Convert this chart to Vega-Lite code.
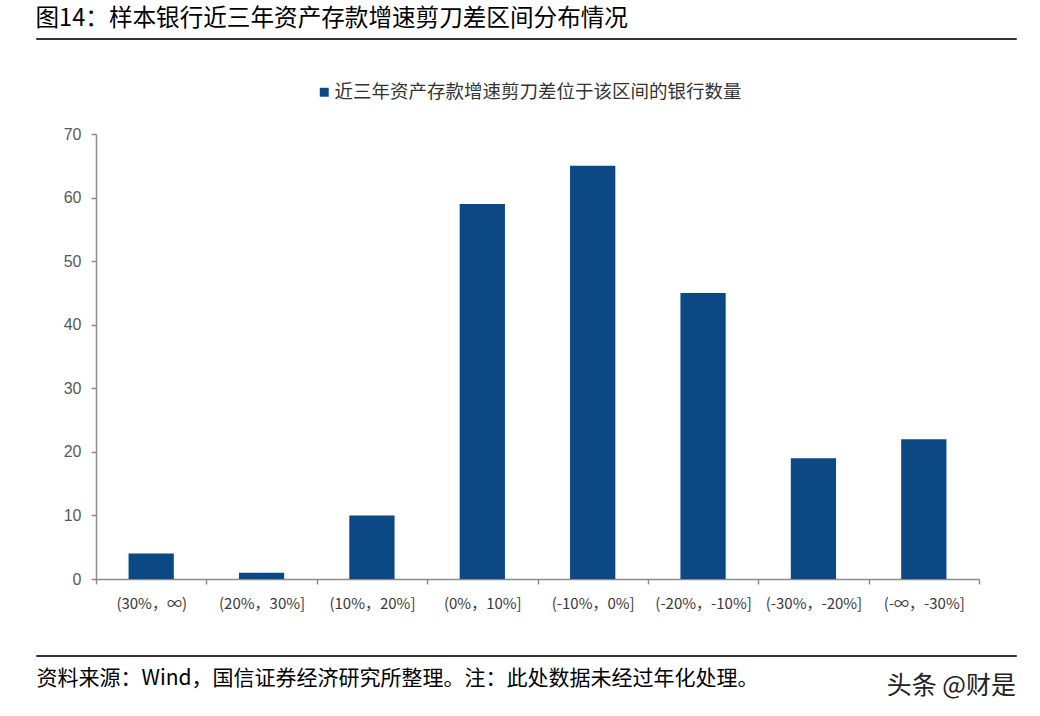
{
  "$schema": "https://vega.github.io/schema/vega-lite/v6.json",
  "padding": {"left": 35, "top": 6, "right": 25, "bottom": 38},
  "title": {"text": "图14：样本银行近三年资产存款增速剪刀差区间分布情况", "anchor": "start", "font": "Noto Sans CJK SC", "fontSize": 23.6, "fontWeight": "normal", "color": "#000000", "offset": 7},
  "config": {
    "view": {"stroke": "#333333", "strokeWidth": 1},
    "concat": {"spacing": 43},
    "font": "Noto Sans CJK SC"
  },
  "resolve": {"scale": {"color": "independent"}, "legend": {"color": "independent"}},
  "columns": 1,
  "concat": [
    {
      "width": 980, "height": 1,
      "data": {"values": []},
      "mark": "point",
      "encoding": {
        "x": {"field": "v", "type": "quantitative", "scale": {"domain": [0, 1]}, "axis": null}
      }
    },
    {
      "width": 980, "height": 445,
      "view": {"stroke": null},
      "data": {"values": [
        {"range": "(30%，∞)", "count": 4, "series": "近三年资产存款增速剪刀差位于该区间的银行数量"},
        {"range": "(20%，30%]", "count": 1, "series": "近三年资产存款增速剪刀差位于该区间的银行数量"},
        {"range": "(10%，20%]", "count": 10, "series": "近三年资产存款增速剪刀差位于该区间的银行数量"},
        {"range": "(0%，10%]", "count": 59, "series": "近三年资产存款增速剪刀差位于该区间的银行数量"},
        {"range": "(-10%，0%]", "count": 65, "series": "近三年资产存款增速剪刀差位于该区间的银行数量"},
        {"range": "(-20%，-10%]", "count": 45, "series": "近三年资产存款增速剪刀差位于该区间的银行数量"},
        {"range": "(-30%，-20%]", "count": 19, "series": "近三年资产存款增速剪刀差位于该区间的银行数量"},
        {"range": "(-∞，-30%]", "count": 22, "series": "近三年资产存款增速剪刀差位于该区间的银行数量"}
      ]},
      "mark": {"type": "bar", "width": {"band": 0.41}},
      "encoding": {
        "x": {
          "field": "range", "type": "nominal", "sort": null,
          "scale": {"paddingInner": 0, "paddingOuter": 0, "range": [60, 943]},
          "axis": {"title": null, "labelAngle": 0, "tickBand": "extent", "domainColor": "#8c8c8c", "tickColor": "#8c8c8c", "tickSize": 5, "domainWidth": 1.5, "tickWidth": 1.5, "labelFont": "Noto Sans CJK SC", "labelFontSize": 15, "labelColor": "#3a3a3a", "labelPadding": 12}
        },
        "y": {
          "field": "count", "type": "quantitative",
          "scale": {"domain": [0, 70]},
          "axis": {"values": [0, 10, 20, 30, 40, 50, 60, 70], "offset": -60, "grid": false, "title": null, "domainColor": "#8c8c8c", "tickColor": "#8c8c8c", "tickSize": 5, "domainWidth": 1.5, "tickWidth": 1.5, "labelFont": "Liberation Sans", "labelFontSize": 16, "labelColor": "#595959", "labelPadding": 10}
        },
        "color": {
          "field": "series", "type": "nominal",
          "scale": {"range": ["#0B4884"]},
          "legend": {"title": null, "orient": "none", "legendX": 279, "legendY": -51, "symbolType": "square", "symbolSize": 80, "symbolStrokeWidth": 0, "labelFont": "Noto Sans CJK SC", "labelFontSize": 18.5, "labelColor": "#333333", "labelLimit": 0, "padding": 0, "labelOffset": 1}
        }
      }
    },
    {
      "width": 980, "height": 1,
      "data": {"values": []},
      "mark": "point",
      "encoding": {
        "x": {
          "field": "v", "type": "quantitative",
          "scale": {"domain": [0, 1]},
          "axis": {"domain": false, "ticks": false, "labels": false, "grid": false, "title": "资料来源：Wind，国信证券经济研究所整理。注：此处数据未经过年化处理。", "titleAnchor": "start", "titleFont": "Noto Sans CJK SC", "titleFontSize": 21, "titleFontWeight": "normal", "titleColor": "#000000", "titlePadding": 11}
        }
      },
      "title": {"text": "头条 @财是", "orient": "bottom", "anchor": "end", "frame": "group", "font": "Noto Sans CJK SC", "fontSize": 25, "fontWeight": "normal", "color": "#222222", "offset": -14}
    }
  ]
}
